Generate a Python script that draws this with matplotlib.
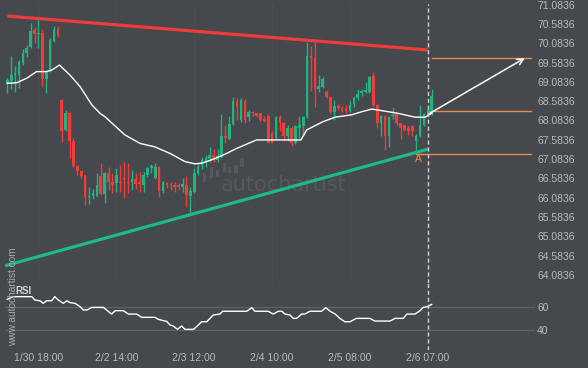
import matplotlib
matplotlib.use("Agg")
import matplotlib.pyplot as plt
from matplotlib.patches import Rectangle
import numpy as np

# ---------------- data ----------------
opens = [69.02, 69.11, 69.26, 69.26, 69.58, 69.82, 69.98, 70.43, 70.32, 70.36,
         69.17, 69.39, 70.14, 70.45,
         68.62, 67.84, 68.27, 67.55, 66.90, 66.77, 66.67, 66.09, 66.13, 66.13,
         66.65, 66.18, 66.72, 66.50, 66.46, 66.50, 66.59, 66.50, 66.48, 66.57,
         66.48, 66.40, 66.67, 66.85, 66.59, 66.89, 66.27, 66.46, 66.44, 66.41,
         66.40, 66.37, 66.41,
         66.14, 66.24, 66.72, 66.93, 67.02, 67.08, 67.20, 67.06,
         67.15, 67.68, 67.60, 67.99, 68.60, 68.10, 68.60, 68.17, 68.30, 68.27,
         68.27, 68.12, 68.20, 67.75, 67.62, 68.17, 68.01, 67.68, 67.88, 67.49,
         67.88, 67.93, 68.17, 69.76, 69.69,
         68.89, 68.96, 68.83, 68.68, 68.31, 68.46, 68.40, 68.40, 68.34, 68.51,
         68.66, 68.79, 68.81, 68.81, 69.24, 68.49, 68.03, 68.20, 67.68, 68.20,
         68.25, 68.01, 67.97, 67.90, 67.93, 67.54, 67.68, 67.97, 68.23, 68.31]
highs = [69.18, 69.75, 69.50, 69.65, 69.93, 70.04, 70.60, 70.51, 70.69, 70.45,
         69.39, 70.21, 70.54, 70.54,
         68.64, 68.36, 68.30, 67.62, 66.92, 66.78, 66.68, 66.37, 66.30, 66.72,
         66.98, 66.76, 66.87, 66.72, 66.85, 66.93, 67.02, 66.99, 66.80, 66.73,
         66.76, 66.76, 66.89, 66.96, 66.99, 66.91, 66.52, 66.50, 66.48, 66.48,
         66.46, 66.59, 66.65,
         66.37, 66.85, 66.99, 67.15, 67.19, 67.40, 67.35, 67.35,
         68.25, 67.97, 68.20, 68.68, 68.66, 68.66, 68.63, 68.36, 68.34, 68.29,
         68.29, 68.20, 68.25, 67.80, 68.20, 68.23, 68.05, 67.97, 67.93, 67.97,
         68.20, 68.20, 70.13, 70.01, 70.13,
         69.26, 69.22, 68.87, 68.72, 68.62, 68.51, 68.47, 68.49, 68.60, 68.72,
         68.89, 68.89, 69.09, 69.24, 69.35, 68.51, 68.23, 68.23, 68.20, 68.44,
         68.27, 68.03, 67.97, 67.95, 67.97, 67.73, 68.49, 68.27, 68.40, 68.89]
lows = [68.80, 68.89, 68.83, 68.92, 69.52, 69.74, 69.95, 70.08, 69.95, 68.94,
        68.80, 69.35, 70.13, 70.25,
        67.52, 67.82, 67.11, 66.88, 66.67, 66.59, 65.90, 65.91, 66.05, 66.11,
        66.15, 65.94, 66.28, 66.20, 66.24, 66.24, 66.07, 66.20, 66.28, 66.30,
        66.24, 66.24, 66.63, 66.72, 66.57, 66.10, 66.20, 66.33, 66.28, 66.24,
        66.28, 66.23, 65.85,
        65.66, 66.20, 66.66, 66.83, 66.89, 67.02, 67.00, 67.00,
        67.10, 67.49, 67.58, 67.97, 68.10, 68.05, 68.01, 68.08, 68.20, 68.18,
        68.08, 68.04, 67.49, 67.49, 67.60, 67.80, 67.54, 67.56, 67.42, 67.48,
        67.62, 67.67, 68.14, 68.85, 68.44,
        68.83, 68.92, 68.66, 68.27, 68.10, 68.36, 68.30, 68.27, 68.31, 68.44,
        68.62, 68.72, 68.79, 68.79, 68.46, 67.88, 67.67, 67.32, 67.39, 68.11,
        67.97, 67.60, 67.80, 67.72, 67.67, 67.25, 67.65, 67.93, 68.20, 68.23]
closes = [69.12, 69.26, 69.31, 69.61, 69.84, 69.97, 70.41, 70.32, 70.36, 69.17,
          69.35, 70.17, 70.45, 70.30,
          67.82, 68.27, 67.56, 66.90, 66.77, 66.65, 66.09, 66.13, 66.20, 66.41,
          66.18, 66.72, 66.50, 66.41, 66.67, 66.46, 66.53, 66.46, 66.57, 66.45,
          66.43, 66.67, 66.85, 66.91, 66.89, 66.27, 66.48, 66.41, 66.40, 66.37,
          66.36, 66.43, 66.15,
          66.26, 66.73, 66.87, 67.06, 67.10, 67.19, 67.08, 67.16,
          67.68, 67.62, 67.99, 68.60, 68.44, 68.62, 68.10, 68.31, 68.27, 68.20,
          68.10, 68.08, 67.51, 67.51, 68.17, 68.01, 67.68, 67.88, 67.49, 67.93,
          67.97, 68.18, 69.76, 69.69, 68.89,
          68.98, 69.15, 68.68, 68.31, 68.46, 68.40, 68.36, 68.34, 68.49, 68.66,
          68.77, 68.86, 68.87, 69.22, 68.49, 68.03, 68.20, 67.68, 68.18, 68.23,
          68.01, 67.88, 67.84, 67.82, 67.80, 67.68, 67.97, 68.25, 68.36, 68.72]

ma_idx = [0, 2.4, 5, 7.5, 10.1, 11.4, 13.4, 16.1, 18.7, 21.7, 23.8, 25.1, 30.2,
          34.1, 37.9, 41.8, 45.6, 48.2, 50, 52.9, 56.3, 58.9, 64, 75.4, 76.9,
          81, 84.2, 88.4, 91, 93.6, 96.1, 100.3, 104.7, 107.3, 109]
ma_val = [69.05, 69.06, 69.18, 69.35, 69.35, 69.39, 69.52, 69.26, 68.96, 68.49,
          68.27, 68.18, 67.71, 67.49, 67.40, 67.23, 67.02, 66.96, 66.98, 67.08,
          67.23, 67.36, 67.58, 67.58, 67.84, 68.05, 68.17, 68.23, 68.31, 68.38,
          68.34, 68.27, 68.17, 68.17, 68.27]

rsi_idx = [0, 1.5, 6.3, 7.1, 8.4, 9.2, 10.1, 11.4, 12.2, 13.1, 14.4, 15.3, 16.1,
           17.4, 18.7, 19.5, 20.5, 21.7, 24.7, 25.5, 26.8, 27.7, 29.8, 31.1, 33.2,
           34.5, 37.9, 38.8, 40.1, 40.9, 41.8, 42.6, 43.7, 44.8, 45.6, 47.8, 48.6,
           49.9, 51.2, 52.9, 54.6, 55.3, 61.5, 62.8, 63.6, 67.0, 68.3, 69.6, 70.5,
           71.3, 72.6, 73.4, 74.3, 75.6, 76.4, 77.7, 80.7, 81.8, 82.9, 84.2, 85.4,
           86.7, 88.0, 89.7, 93.1, 94.4, 98.3, 99.6, 101.7, 102.6, 104.7, 106.0,
           106.8, 107.9, 109.0]
rsi_val = [66.3, 68.6, 68.6, 65.7, 65.1, 62.9, 65.1, 65.1, 68.6, 65.7, 62.9, 65.1,
           63.5, 62.9, 60.0, 57.2, 57.2, 59.4, 59.4, 57.2, 53.7, 56.6, 56.6, 53.7,
           53.7, 50.9, 50.9, 49.2, 48.0, 47.5, 44.3, 43.5, 40.6, 43.5, 40.6, 40.6,
           42.9, 47.1, 47.1, 52.9, 53.7, 56.1, 56.1, 59.1, 56.1, 56.1, 53.7, 56.1,
           56.1, 53.7, 52.9, 50.0, 50.0, 53.7, 53.7, 56.1, 56.1, 59.1, 56.1, 53.7,
           50.0, 47.1, 47.1, 50.0, 50.0, 47.7, 47.7, 50.0, 50.0, 53.7, 53.7, 56.6,
           59.4, 60.0, 62.0]

resist_idx = [0, 108]
resist_val = [70.79, 69.91]
support_idx = [-0.6, 108]
support_val = [64.32, 67.34]

level_val = [69.706, 68.326, 67.225]
level_start = [109, 108, 105]
level_end = 134.5
proj_idx = [108.5, 132.9]
proj_val = [68.27, 69.70]
point_a = (105.5, 67.09)

now_idx = 108
xtick_idx = [8, 28, 48, 68, 88, 108]
xtick_lab = ["1/30 18:00", "2/2 14:00", "2/3 12:00", "2/4 10:00", "2/5 08:00", "2/6 07:00"]
ptick_lab = ["71.0836", "70.5836", "70.0836", "69.5836", "69.0836", "68.5836", "68.0836",
             "67.5836", "67.0836", "66.5836", "66.0836", "65.5836", "65.0836", "64.5836", "64.0836"]
rsi_ticks = [40, 60]

# ---------------- style ----------------
BG = "#45484d"
GREEN = "#21b47f"
RED = "#f23c3c"
TXT = "#b8babc"
WM = "#55595e"
FONT = "Liberation Sans"
plt.rcParams["font.family"] = [FONT, "DejaVu Sans"]

W, H = 588, 368
fig = plt.figure(figsize=(W / 100, H / 100), dpi=100, facecolor=BG)

L, R = 5, 535
ax = fig.add_axes([L / W, 1 - 283 / H, (R - L) / W, (283 - 4) / H], facecolor=BG)
axr = fig.add_axes([L / W, 1 - 350 / H, (R - L) / W, (350 - 283) / H], facecolor=BG)

xlim = (-0.59, 135.52)
for a in (ax, axr):
    a.set_xlim(*xlim)
    for s in a.spines.values():
        s.set_visible(False)
    a.tick_params(length=0, colors=TXT, labelsize=7.5)

ax.set_ylim(63.8738, 71.1017)
axr.set_ylim(22.90, 80.31)

# faint vertical grid
for xi in xtick_idx:
    ax.axvline(xi, color="#4a4e53", lw=1, zorder=0)

# watermark (logo bars + word)
logo_bars = [(0.373, 0.363, 0.032), (0.386, 0.376, 0.040), (0.398, 0.380, 0.025),
             (0.411, 0.398, 0.032), (0.421, 0.394, 0.022), (0.433, 0.394, 0.029),
             (0.444, 0.416, 0.032)]
for bx, by, bh in logo_bars:
    ax.add_patch(Rectangle((bx, by), 0.006, bh, transform=ax.transAxes,
                           color=WM, lw=0, zorder=1))
ax.text(0.526, 0.351, "autochartist", transform=ax.transAxes, color=WM,
        fontsize=15, ha="center", va="center", zorder=1, family="DejaVu Sans")

# candles
idx = np.arange(len(closes))
o = np.array(opens); c = np.array(closes); h = np.array(highs); l = np.array(lows)
cols = np.where(c >= o, GREEN, RED)
ax.vlines(idx, l, h, colors=cols, lw=1, zorder=3)
body = np.maximum(np.abs(c - o), 0.025)
ax.bar(idx, body, bottom=np.minimum(o, c), width=0.68, color=cols, lw=0, zorder=4)

# moving average
ax.plot(ma_idx, ma_val, color="white", lw=1.0, zorder=5)

# trend lines
ax.plot(resist_idx, resist_val, color="#ee3b3b", lw=2.3, solid_capstyle="butt", zorder=2)
ax.plot(support_idx, support_val, color="#1dba86", lw=2.3, solid_capstyle="butt", zorder=2)

# levels
for v, s in zip(level_val, level_start):
    ax.plot([s, level_end], [v, v], color="#e88a4c", lw=1, zorder=2)

ax.annotate("", xy=(proj_idx[1], proj_val[1]), xytext=(proj_idx[0], proj_val[0]),
            arrowprops=dict(arrowstyle="->", color="white", lw=1.1, mutation_scale=11,
                            shrinkA=0, shrinkB=0), zorder=6)
ax.text(point_a[0], point_a[1], "A", color="#e88a4c", fontsize=7.5, ha="center", va="center",
        zorder=6)

# now line
ax.axvline(now_idx, color="#cfd1d3", lw=1, dashes=(3, 2), zorder=6)
axr.axvline(now_idx, color="#cfd1d3", lw=1, dashes=(3, 2), zorder=6)

# price axis
ax.yaxis.tick_right()
ax.set_yticks([float(t) for t in ptick_lab])
ax.set_yticklabels(ptick_lab)
ax.tick_params(axis="y", pad=1.5)
ax.set_xticks([])

# RSI
for t in rsi_ticks:
    axr.axhline(t, color="#5e6267", lw=1, zorder=1)
axr.plot(rsi_idx, rsi_val, color="white", lw=1.0, zorder=3)
axr.yaxis.tick_right()
axr.set_yticks(rsi_ticks)
axr.set_yticklabels([str(t) for t in rsi_ticks])
axr.tick_params(axis="y", pad=1.5)
axr.set_xticks(xtick_idx)
axr.set_xticklabels(xtick_lab)
axr.tick_params(axis="x", pad=2)

fig.text(15 / W, 1 - 291 / H, "RSI", color="#cfd1d3", fontsize=7, fontweight="bold",
         ha="left", va="center")
fig.text(13 / W, 1 - 297 / H, "www.autochartist.com", color="#a9abad", fontsize=7.3,
         rotation=90, ha="center", va="center")

fig.savefig("out.png", dpi=100, facecolor=BG)
